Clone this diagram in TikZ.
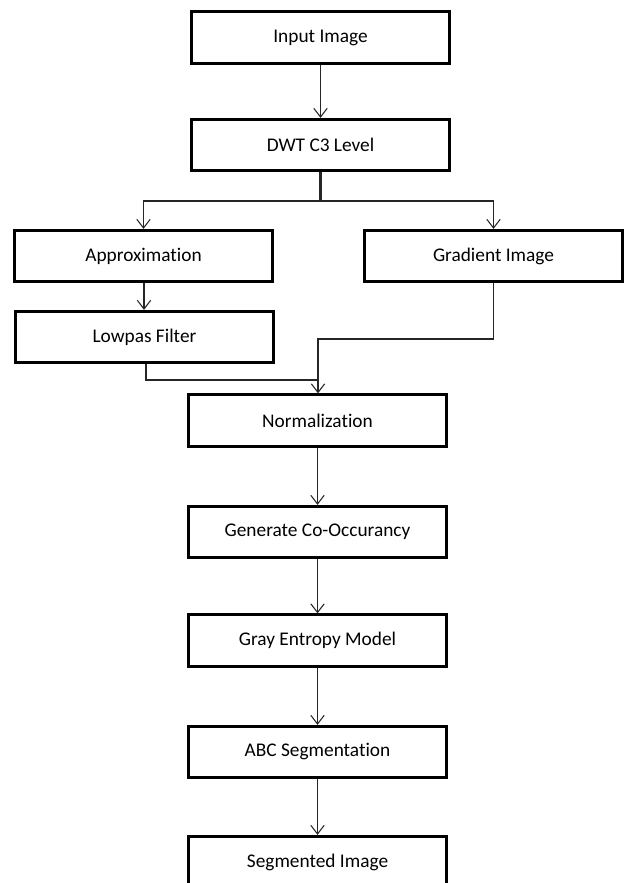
\documentclass[tikz,border=0pt]{standalone}
\usepackage{fontspec}
\setmainfont{Carlito}[Ligatures=NoCommon]
\usetikzlibrary{arrows.meta}
\begin{document}
\begin{tikzpicture}[x=0.75pt,y=-0.75pt,
  box/.style={draw=black,line width=2.2pt,minimum width=194pt,minimum height=38.5pt,inner sep=0pt,font=\fontsize{14.5}{17}\selectfont},
  conn/.style={draw=black!85,line width=0.8pt},
  arr/.style={conn,-{Straight Barb[length=6.5pt,width=10pt,line width=0.8pt]}}]
\useasboundingbox (0,0) rectangle (625,883);
\clip (0,0) rectangle (625,883);
\node[box] (in)   at (320.5,37.5) {Input Image};
\node[box] (dwt)  at (320.5,145)  {DWT C3 Level};
\node[box] (app)  at (143.5,256)  {Approximation};
\node[box] (grad) at (493.5,256)  {Gradient Image};
\node[box] (low)  at (144.5,337)  {Lowpas Filter};
\node[box] (norm) at (317.5,420.5) {Normalization};
\node[box] (gen)  at (317.5,532)  {Generate Co-Occurancy};
\node[box] (gray) at (317.5,640.5) {Gray Entropy Model};
\node[box] (abc)  at (317.5,752)  {ABC Segmentation};
\node[box] (seg)  at (317.5,862)  {Segmented Image};
\coordinate (br) at (320.5,201);
\coordinate (gj) at (318,339);
\coordinate (lj) at (318,380);
\draw[arr] (in.south) -- (dwt.north);
\draw[conn,line width=1.6pt] (dwt.south) -- (br);
\draw[arr] (br) -| (app.north);
\draw[arr] (br) -| (grad.north);
\draw[arr] (app.south -| 144,0) -- (low.north -| 144,0);
\draw[arr] (grad.south) |- (gj) -- (gj |- norm.north);
\draw[conn] (low.south -| 146,0) |- (lj);
\draw[arr] (norm.south) -- (gen.north);
\draw[arr] (gen.south) -- (gray.north);
\draw[arr] (gray.south) -- (abc.north);
\draw[arr] (abc.south) -- (seg.north);
\end{tikzpicture}
\end{document}
